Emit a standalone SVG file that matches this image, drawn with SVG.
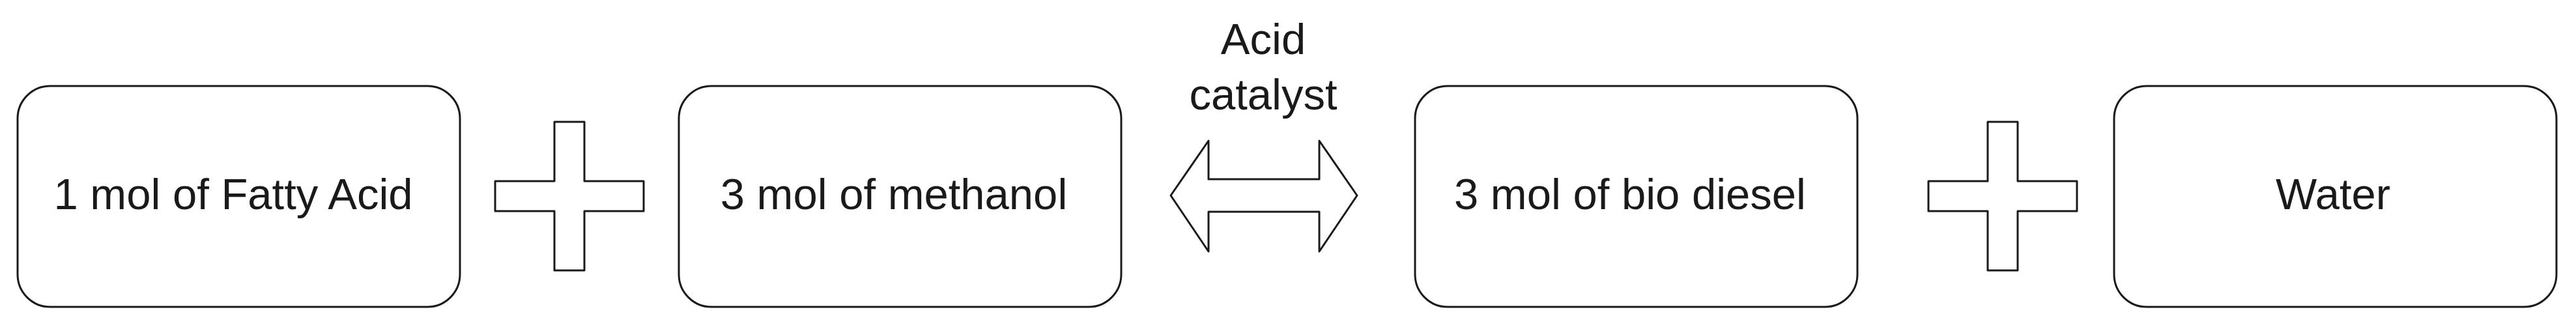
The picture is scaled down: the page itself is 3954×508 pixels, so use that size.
<svg xmlns="http://www.w3.org/2000/svg" width="3954" height="508" viewBox="0 0 3954 508">
  <style>
    .box { fill: #ffffff; stroke: #1a1a1a; stroke-width: 3; }
    .shape { fill: #ffffff; stroke: #1a1a1a; stroke-width: 3; stroke-linejoin: round; }
    .lbl { font-family: "Liberation Sans", Arial, sans-serif; font-size: 67px; fill: #1a1a1a; text-anchor: middle; }
  </style>
  <defs>
    <path id="plus" d="M -23 -114 H 23 V -23 H 114 V 23 H 23 V 114 H -23 V 23 H -114 V -23 H -23 Z"/>
  </defs>
  <rect width="3954" height="508" fill="#ffffff"/>

  <g id="node-fatty-acid">
    <rect class="box" x="27" y="132" width="679" height="339" rx="50" ry="50"/>
    <text class="lbl" x="358" y="321">1 mol of Fatty Acid</text>
  </g>

  <g id="plus-1">
    <use href="#plus" class="shape" x="874" y="301"/>
  </g>

  <g id="node-methanol">
    <rect class="box" x="1042" y="132" width="679" height="339" rx="50" ry="50"/>
    <text class="lbl" x="1372" y="321">3 mol of methanol</text>
  </g>

  <g id="connectors">
    <g id="reaction-arrow">
      <path class="shape" d="M 1797 300 L 1855 216 V 275 H 2025 V 216 L 2083 300 L 2025 386 V 325 H 1855 V 386 Z"/>
      <text class="lbl" x="1939" y="83">Acid</text>
      <text class="lbl" x="1939" y="168">catalyst</text>
    </g>
  </g>

  <g id="node-biodiesel">
    <rect class="box" x="2172" y="132" width="679" height="339" rx="50" ry="50"/>
    <text class="lbl" x="2502" y="321">3 mol of bio diesel</text>
  </g>

  <g id="plus-2">
    <use href="#plus" class="shape" x="3074" y="301"/>
  </g>

  <g id="node-water">
    <rect class="box" x="3245" y="132" width="679" height="339" rx="50" ry="50"/>
    <text class="lbl" x="3581" y="321">Water</text>
  </g>
</svg>
